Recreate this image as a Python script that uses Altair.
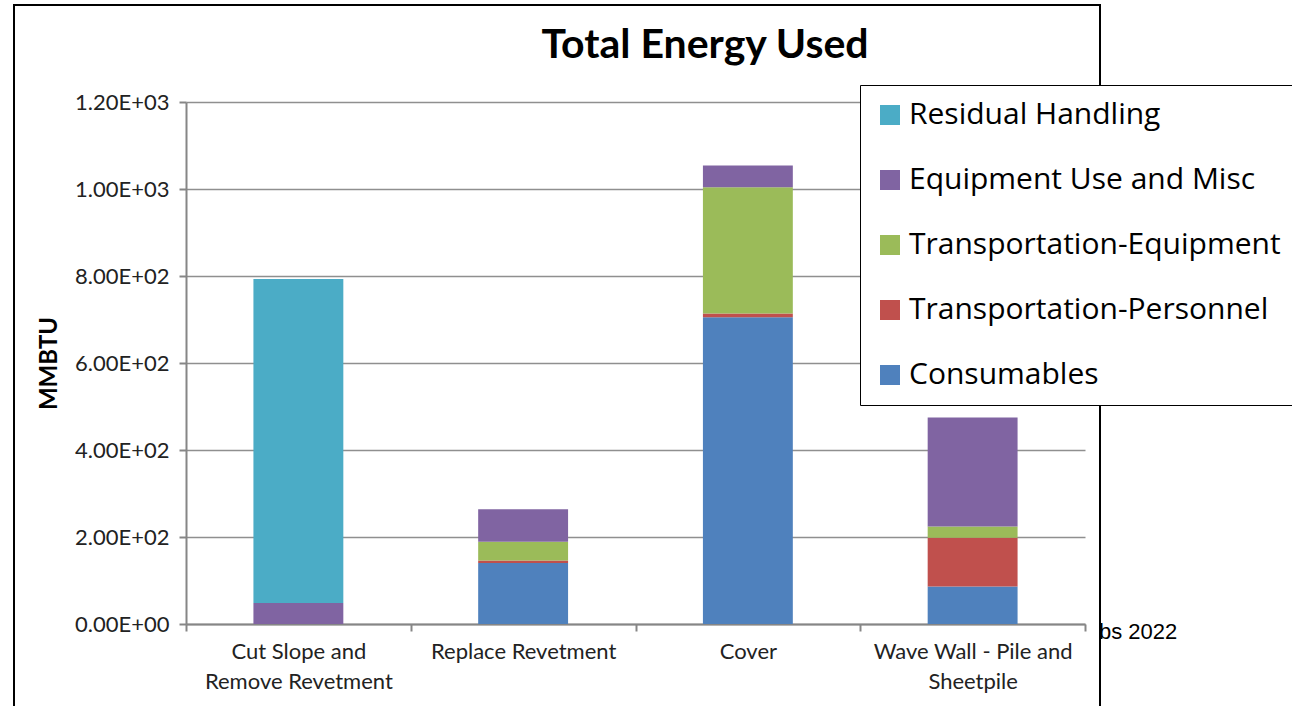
import json
import altair as alt
import pandas as pd

# Project alternatives (x axis) and the two-line labels used under each bar
categories = [
    "Cut Slope and Remove Revetment",
    "Replace Revetment",
    "Cover",
    "Wave Wall - Pile and Sheetpile",
]
category_lines = [
    ["Cut Slope and", "Remove Revetment"],
    ["Replace Revetment"],
    ["Cover"],
    ["Wave Wall - Pile and", "Sheetpile"],
]

# Energy components, stacked bottom to top (MMBTU)
series = [
    "Consumables",
    "Transportation-Personnel",
    "Transportation-Equipment",
    "Equipment Use and Misc",
    "Residual Handling",
]
colors = ["#4F81BD", "#C0504D", "#9BBB59", "#8064A2", "#4BACC6"]

consumables = [0, 140, 705, 86]
transport_personnel = [0, 6, 9, 112]
transport_equipment = [0, 43, 290, 26]
equipment_use = [48, 75, 50, 251]
residual_handling = [745, 0, 0, 0]

y_ticks = [0, 200, 400, 600, 800, 1000, 1200]

values_by_series = [
    consumables,
    transport_personnel,
    transport_equipment,
    equipment_use,
    residual_handling,
]
rows = []
for rank, (name, vals) in enumerate(zip(series, values_by_series)):
    for cat, v in zip(categories, vals):
        rows.append({"Alternative": cat, "Component": name, "MMBTU": v, "rank": rank})
df = pd.DataFrame(rows)

# Split the long category names over two lines
label_expr = "datum.label"
for cat, lines in zip(categories, category_lines):
    if len(lines) > 1:
        label_expr = f"datum.value == {json.dumps(cat)} ? {json.dumps(lines)} : ({label_expr})"

FONT = "Lato"
W, H = 899, 522
PAD_L, PAD_T = 186, 102

bars = (
    alt.Chart(df)
    .mark_bar(width=alt.RelativeBandSize(0.4))
    .encode(
        x=alt.X(
            "Alternative:N",
            sort=categories,
            scale=alt.Scale(paddingInner=0, paddingOuter=0),
            axis=alt.Axis(
                title=None,
                labelAngle=0,
                labelExpr=label_expr,
                labelLimit=400,
                tickBand="extent",
                tickSize=7,
                labelPadding=10,
                labelFontSize=22,
                labelLineHeight=30,
                labelFont=FONT,
                labelColor="#222222",
                grid=False,
            ),
        ),
        y=alt.Y(
            "MMBTU:Q",
            stack="zero",
            scale=alt.Scale(domain=[0, 1200], nice=False),
            axis=alt.Axis(
                values=y_ticks,
                labelExpr="replace(upper(format(datum.value, '.2e')), 'E+', 'E+0')",
                labelFontSize=22,
                labelFont=FONT,
                labelColor="#222222",
                labelPadding=10,
                tickSize=7,
                title="MMBTU",
                titleFont=FONT,
                titleFontSize=24,
                titleFontWeight="bold",
                titleColor="#000000",
                titleX=-137,
                titleY=H / 2,
                titleAngle=-90,
                titleAlign="center",
                titleBaseline="middle",
            ),
        ),
        color=alt.Color(
            "Component:N",
            scale=alt.Scale(domain=series[::-1], range=colors[::-1]),
            legend=alt.Legend(
                title=None,
                orient="none",
                legendX=860 - PAD_L,
                legendY=85 - PAD_T,
                symbolType="square",
                symbolSize=400,
                symbolStrokeWidth=0,
                symbolOffset=0,
                labelFont="Open Sans",
                labelFontSize=30,
                labelColor="#000000",
                labelOffset=4,
                labelLimit=600,
                rowPadding=35,
                padding=15,
                strokeColor="#000000",
                fillColor="#ffffff",
            ),
        ),
        order=alt.Order("rank:Q", sort="ascending"),
    )
)

# Chart-area frame
frame = (
    alt.Chart(pd.DataFrame({"k": [0]}))
    .mark_rect(fill="#ffffff", fillOpacity=0, stroke="#000000", strokeWidth=2)
    .encode(
        x=alt.value(14 - PAD_L),
        x2=alt.value(1100 - PAD_L),
        y=alt.value(5 - PAD_T),
        y2=alt.value(720 - PAD_T),
    )
)

# Chart heading
heading = (
    alt.Chart(pd.DataFrame({"title": ["Total Energy Used"]}))
    .mark_text(font=FONT, fontSize=41, fontWeight="bold", align="center", baseline="alphabetic", color="#000000")
    .encode(text="title:N", x=alt.value(705 - PAD_L), y=alt.value(58 - PAD_T))
)

# Source note sitting at the frame edge
note = (
    alt.Chart(pd.DataFrame({"note": ["bs 2022"]}))
    .mark_text(font="Liberation Sans", fontSize=22, align="left", baseline="alphabetic", color="#000000")
    .encode(text="note:N", x=alt.value(1099 - PAD_L), y=alt.value(639 - PAD_T))
)

chart = (
    alt.layer(note, frame, heading, bars)
    .properties(
        width=W,
        height=H,
        autosize=alt.AutoSizeParams(type="none"),
        padding={"left": PAD_L, "top": PAD_T, "right": 1292 - PAD_L - W, "bottom": 706 - PAD_T - H},
    )
    .configure_view(stroke=None)
    .configure_axis(
        domainColor="#868686",
        domainWidth=2,
        tickColor="#868686",
        tickWidth=2,
        gridColor="#8f8f8f",
        gridWidth=1.5,
    )
)

chart.save("out.html", embed_options={"renderer": "svg", "actions": False})
